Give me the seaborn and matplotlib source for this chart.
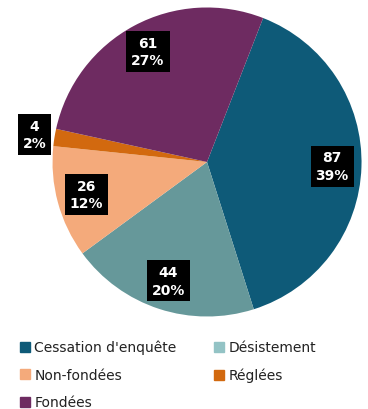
import matplotlib
matplotlib.use("Agg")
import matplotlib.pyplot as plt
import seaborn as sns
from matplotlib.lines import Line2D

# data
categories = ["Cessation d'enquête", "Désistement", "Non-fondées", "Réglées", "Fondées"]
counts = [87, 44, 26, 4, 61]
percents = ["39%", "20%", "12%", "2%", "27%"]
colors = ["#0E5A78", "#66989A", "#F4AA7B", "#D2690F", "#6E2B61"]
legend_colors = ["#0E5A78", "#93C3C5", "#F4AA7B", "#D2690F", "#6E2B61"]

sns.set_theme(style="white")
plt.rcParams['font.family'] = ['DejaVu Sans']
palette = sns.color_palette(colors)

fig = plt.figure(figsize=(3.68, 4.10), dpi=100)
ax = fig.add_axes([0.1427, 0.2256, 0.8397, 0.7537])

wedges, texts = ax.pie(counts, colors=palette, startangle=68.7, counterclock=False,
                       labels=[f"{c}\n{p}" for c, p in zip(counts, percents)],
                       labeldistance=0.81, wedgeprops=dict(linewidth=0))
for i, t in enumerate(texts):
    t.set_color("white")
    t.set_fontweight("bold")
    t.set_fontsize(10)
    t.set_ha("center")
    t.set_va("center")
    t.set_linespacing(1.3)
    t.set_bbox(dict(facecolor="black", edgecolor="none", pad=3.5))
    if counts[i] == 4:
        x, y = t.get_position()
        t.set_position((x * 1.13 / 0.81, y * 1.13 / 0.81))
ax.set_xlim(-1, 1)
ax.set_ylim(-1, 1)
ax.set_aspect("equal")
ax.axis("off")

# legend, ordered row by row
handles = [Line2D([], [], marker="s", linestyle="none", markersize=6.5,
                  markerfacecolor=c, markeredgecolor=c) for c in legend_colors]
order = [0, 2, 4, 1, 3]
leg = fig.legend([handles[i] for i in order], [categories[i] for i in order],
                 ncol=2, loc="upper left", bbox_to_anchor=(0.035, 0.182),
                 frameon=False, fontsize=10, handletextpad=0.25, handlelength=0.9,
                 columnspacing=2.6, labelspacing=0.97, borderaxespad=0)
for t in leg.get_texts():
    t.set_color("#222222")

fig.savefig("out.png", dpi=100)
